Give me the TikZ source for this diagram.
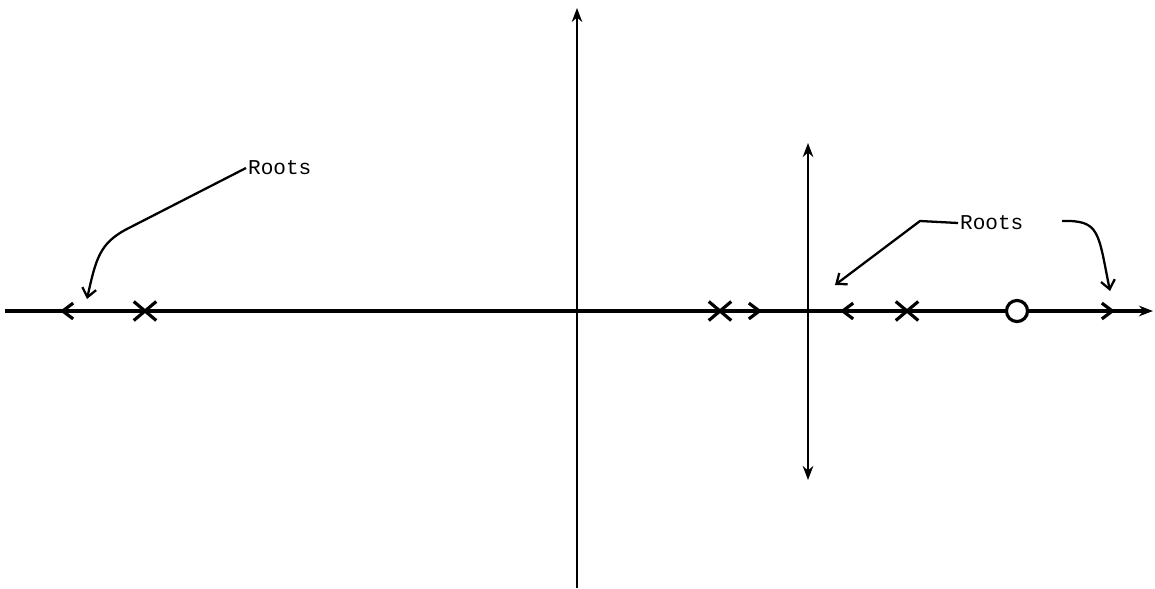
\documentclass[tikz,border=0pt]{standalone}
\usepackage{fontspec}
\setmonofont{Liberation Mono}
\usepackage{tikz}
\usetikzlibrary{arrows.meta, shapes.misc, calc}
\tikzset{
  axis/.style={draw, line width=1.8pt},
  pole/.style={cross out, draw, line width=1.8pt, minimum width=11pt, minimum height=9pt, inner sep=0pt},
  zero/.style={circle, draw, line width=1.8pt, fill=white, minimum size=12pt, inner sep=0pt},
  flow/.style={line width=1.8pt, -{Straight Barb[length=6pt, width=9pt]}},
  leader/.style={line width=1.3pt, -{Straight Barb[length=5pt, width=8pt]}},
  lbl/.style={font=\ttfamily\fontsize{12}{14}\selectfont, inner sep=1pt},
}
\begin{document}
\begin{tikzpicture}[x=0.02cm, y=-0.02cm, >={Stealth[length=8pt, width=6pt]}]
  \useasboundingbox (0,0) rectangle (1155,588);

  %% ── axes ──
  \coordinate (reL) at (5,311);
  \coordinate (reR) at (1153,311);
  \coordinate (imT) at (577,8);
  \coordinate (imB) at (577,588);
  \coordinate (vT)  at (808,143);
  \coordinate (vB)  at (808,480);
  \draw[axis, ->] (reL) -- (reR);
  \draw[line width=0.8pt, ->] (imB) -- (imT);
  \draw[line width=1.3pt, <->] (vB) -- (vT);

  %% ── poles and zero ──
  \node[pole] (p1) at (145,311) {};
  \node[pole] (p2) at (720,311) {};
  \node[pole] (p3) at (907,311) {};
  \node[zero] (z1) at (1017,311) {};

  %% ── directions along the real axis ──
  \coordinate (a1) at (60,311);
  \coordinate (a2) at (762,311);
  \coordinate (a3) at (840,311);
  \coordinate (a4) at (1115,311);
  \draw[flow] ($(a1)+(25,0)$) -- (a1);
  \draw[flow] ($(a2)-(25,0)$) -- (a2);
  \draw[flow] ($(a3)+(30,0)$) -- (a3);
  \draw[flow] ($(a4)-(25,0)$) -- (a4);

  %% ── labels ──
  \node[lbl, anchor=west] (r1) at (246,168) {Roots};
  \node[lbl, anchor=west] (r2) at (958,223) {Roots};

  \coordinate (t1) at (87,299);
  \coordinate (t2) at (835,285);
  \coordinate (s3) at (1062,221);
  \coordinate (t3) at (1110,291);
  \draw[leader] (r1.west) -- (125,230)
    .. controls (100,244) and (96,258) .. (t1);
  \draw[leader] (r2.west) -- (920,221) -- (t2);
  \draw[leader] (s3) .. controls (1100,220) and (1098,232) .. (t3);
\end{tikzpicture}
\end{document}
